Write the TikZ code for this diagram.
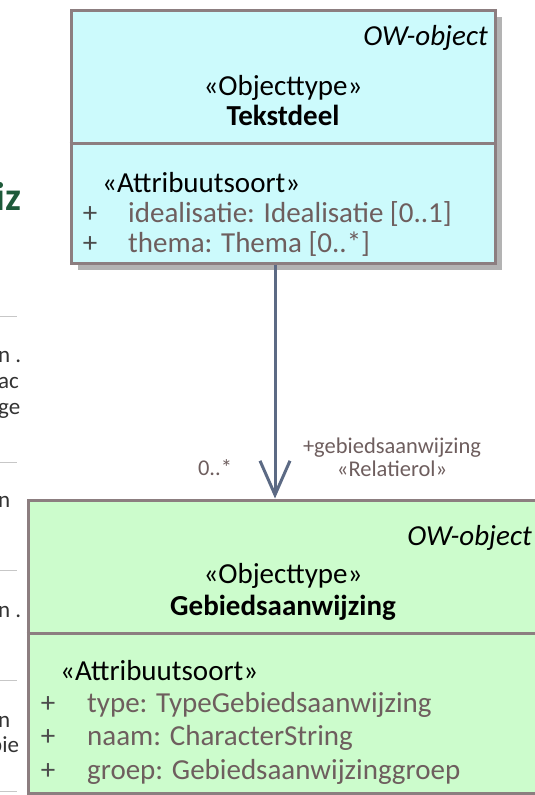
\documentclass[tikz,border=0pt]{standalone}
\usepackage{fontspec}
\setmainfont{Carlito}
\usetikzlibrary{arrows.meta,positioning,shadows}
\definecolor{owcyan}{RGB}{204,250,252}
\definecolor{owgroen}{RGB}{204,252,204}
\definecolor{owrand}{RGB}{140,126,128}
\definecolor{owattr}{RGB}{110,94,94}
\definecolor{owpijl}{RGB}{92,106,132}
\definecolor{owkop}{RGB}{30,90,58}

\begin{document}
\begin{tikzpicture}[x=1pt,y=-1pt,inner sep=0pt,node distance=4pt]
\tikzstyle{klasse}=[rectangle,draw=owrand,line width=3pt]
\tikzstyle{schaduw}=[drop shadow={shadow xshift=7pt,shadow yshift=-7pt,fill=black!50,opacity=0.6}]
\tikzstyle{groot}=[font=\fontsize{29}{30}\selectfont]
\tikzstyle{kenmerk}=[groot,text=owattr,anchor=base west]
\tikzstyle{plus}=[groot,text=black!70,anchor=base]
\tikzstyle{klein}=[font=\fontsize{22.5}{24}\selectfont,text=owattr,anchor=base]
\tikzstyle{pijl}=[draw=owpijl,line width=3pt,-{Straight Barb[length=34pt,width=30pt]}]
\tikzstyle{rest}=[font=\fontsize{23}{25}\selectfont,text=black!80,anchor=base west]
\tikzstyle{streep}=[draw=black!22,line width=1pt]

\useasboundingbox (0,0) rectangle (535,795);
\clip (0,0) rectangle (535,795);

% resten van de pagina links
\node[font=\fontsize{40}{40}\selectfont\bfseries,text=owkop,anchor=base west] (kop) at (-5,210) {iz};
\node[rest] (r1) at (-2,362) {n .};
\node[rest] (r2) at (-2,388) {ac};
\node[rest] (r3) at (-2,414) {ge};
\node[rest] (r4) at (-2,507) {n};
\node[rest] (r5) at (-2,617) {n .};
\node[rest] (r6) at (-2,727) {n};
\node[rest] (r7) at (-10,752) {bie};
\foreach \y in {316,462,570,680,791}
  \draw[streep] (0,\y) -- (17,\y);

% Tekstdeel
\node[klasse,schaduw,fill=owcyan,minimum width=424pt,minimum height=253pt] (tekstdeel) at (283,136.5) {};
\coordinate (tsplit) at (0,143);
\draw[owrand,line width=3pt] (tekstdeel.west |- tsplit) -- (tekstdeel.east |- tsplit);
\node[groot,anchor=base east] (towobj) at (488,45) {\itshape OW-object};
\node[groot,anchor=base] (tstereo) at (283,95) {«Objecttype»};
\node[groot,anchor=base] (tnaam) at (283,125) {\bfseries Tekstdeel};
\node[groot,anchor=base west] (tattr) at (102,192) {«Attribuutsoort»};
\node[plus] (tplus1) at (90,222) {+};
\node[plus] (tplus2) at (90,252) {+};
\node[kenmerk] (tideal) at (128,222) {idealisatie: Idealisatie [0..1]};
\node[kenmerk] (tthema) at (128,252) {thema: Thema [0..*]};

% Gebiedsaanwijzing
\node[klasse,fill=owgroen,minimum width=540pt,minimum height=293pt] (gebied) at (298,646.5) {};
\coordinate (gsplit) at (0,633);
\draw[owrand,line width=3pt] (gebied.west |- gsplit) -- (gebied.east |- gsplit);
\node[groot,anchor=base east] (gowobj) at (532,545) {\itshape OW-object};
\node[groot,anchor=base] (gstereo) at (283,583) {«Objecttype»};
\node[groot,anchor=base] (gnaam) at (283,615) {\bfseries Gebiedsaanwijzing};
\node[groot,anchor=base west] (gattr) at (60,680) {«Attribuutsoort»};
\node[plus] (gplus1) at (48,712) {+};
\node[plus] (gplus2) at (48,745) {+};
\node[plus] (gplus3) at (48,779) {+};
\node[kenmerk] (gtype) at (87,712) {type: TypeGebiedsaanwijzing};
\node[kenmerk] (gnaam2) at (87,745) {naam: CharacterString};
\node[kenmerk] (ggroep) at (87,779) {groep: Gebiedsaanwijzinggroep};

% associatie
\coordinate (pijlvoet) at ([xshift=-8pt]tekstdeel.south);
\draw[pijl] (pijlvoet) -- (pijlvoet |- gebied.north);
\node[klein] (mult) at (215,475) {0..*};
\node[klein] (rolnaam) at (392,453) {+gebiedsaanwijzing};
\node[klein,anchor=north] (rolstereo) [below=4pt of rolnaam] {«Relatierol»};
\end{tikzpicture}
\end{document}
